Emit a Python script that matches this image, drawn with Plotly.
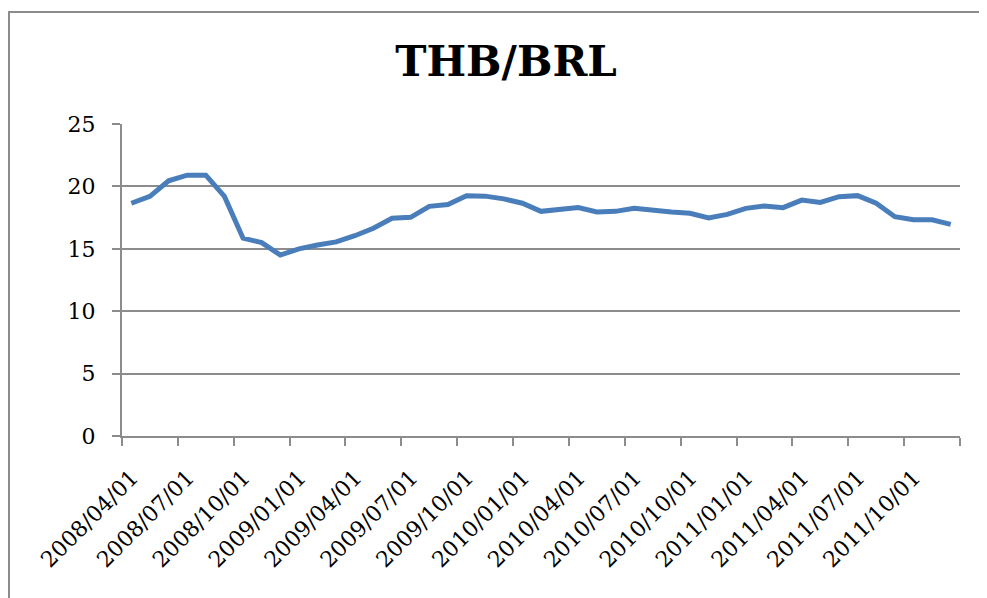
import plotly.graph_objects as go

months = [f"{y}/{m:02d}/01" for y in (2008, 2009, 2010, 2011) for m in range(1, 13)][3:]
values = [18.65, 19.2, 20.45, 20.9, 20.9, 19.2, 15.85, 15.5, 14.5, 15.0,
          15.3, 15.55, 16.05, 16.65, 17.45, 17.52, 18.4, 18.55, 19.25, 19.22,
          19.0, 18.65, 18.0, 18.2, 18.3, 17.95, 18.0, 18.24, 18.05, 17.95,
          17.85, 17.47, 17.76, 18.24, 18.43, 18.3, 18.9, 18.72, 19.18, 19.26,
          18.65, 17.57, 17.33, 17.33, 16.96]
tick_labels = months[::3]

x_idx = list(range(len(values)))
tickvals = [i - 0.5 for i in range(0, len(values) + 1, 3)]
ticktext = tick_labels + [""] * (len(tickvals) - len(tick_labels))

GRID = "#8c8c8c"
FONT = "DejaVu Serif"

fig = go.Figure()
fig.add_trace(go.Scatter(x=x_idx, y=values, mode="lines",
                         line=dict(color="#4a7ebb", width=5), hoverinfo="skip"))

OFF = 8  # page body margin
W, H = 987, 598
L, T = 122 - OFF, 124 - OFF
R = (W + OFF) - 960
B = (H + OFF) - 436
pw, ph = W - L - R, H - T - B

def px(x):
    return (x - 122) / pw

def py(y):
    return (436 - y) / ph

fig.update_layout(
    width=W, height=H,
    margin=dict(l=L, r=R, t=T, b=B),
    paper_bgcolor="white", plot_bgcolor="white",
    showlegend=False,
    font=dict(family=FONT, size=22, color="black"),
    title=dict(text="<b>THB/BRL</b>", font=dict(family=FONT, size=42, color="black"),
               x=(506 - OFF) / W, xanchor="center", xref="container",
               y=1 - (61 - OFF) / H, yanchor="middle", yref="container"),
    xaxis=dict(range=[-0.5, len(values) - 0.5], tickmode="array",
               tickvals=tickvals, ticktext=ticktext, tickangle=-45,
               ticks="outside", ticklen=8, tickwidth=2, tickcolor=GRID,
               ticklabelstandoff=10, ticklabelshift=10,
               showline=True, linecolor=GRID, linewidth=2,
               showgrid=False, zeroline=False,
               tickfont=dict(family=FONT, size=22)),
    yaxis=dict(range=[0, 25], tickvals=[0, 5, 10, 15, 20, 25],
               ticks="outside", ticklen=8, tickwidth=2, tickcolor=GRID,
               ticklabelstandoff=12,
               showline=True, linecolor=GRID, linewidth=2,
               showgrid=True, gridcolor=GRID, gridwidth=2, zeroline=False,
               tickfont=dict(family=FONT, size=22)),
    shapes=[dict(type="rect", xref="paper", yref="paper",
                 x0=px(9), x1=px(1010), y0=py(620), y1=py(12),
                 line=dict(color="#8c8c8c", width=2), layer="below")],
)

fig.write_html("out.html")
